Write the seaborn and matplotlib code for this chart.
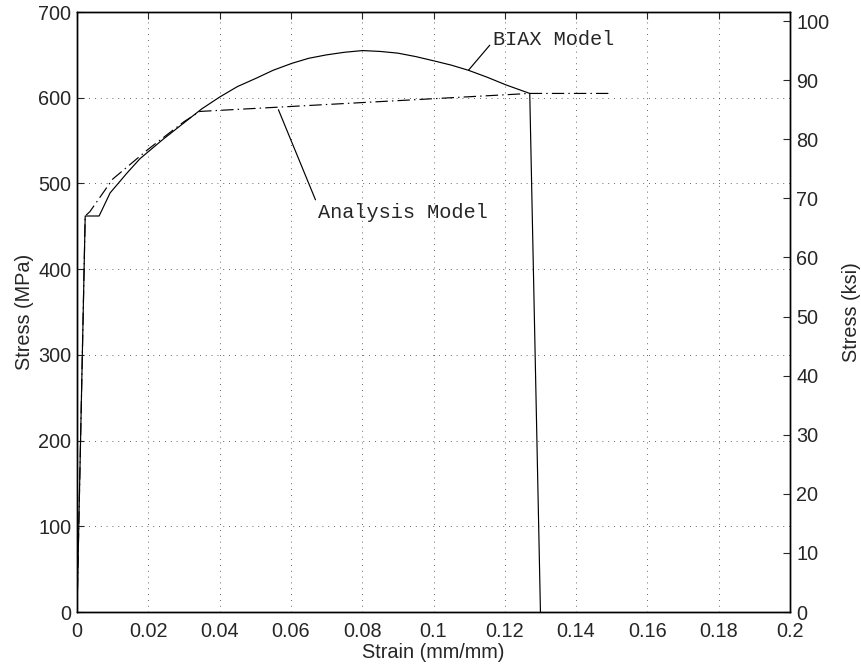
import matplotlib
matplotlib.use("Agg")
import matplotlib.pyplot as plt
import seaborn as sns
import pandas as pd

# ---- data ----
biax_strain = [0.0, 0.0023, 0.0062, 0.0093, 0.014, 0.0177, 0.024, 0.0298, 0.035, 0.0401,
               0.045, 0.0504, 0.055, 0.0602, 0.065, 0.070, 0.075, 0.0801, 0.085, 0.090,
               0.095, 0.1001, 0.105, 0.1098, 0.115, 0.1203, 0.127, 0.130]
biax_stress = [0, 462, 462, 489, 512, 529, 551, 570, 587, 601,
               613, 623, 632, 640, 646, 650, 653, 655, 654, 652,
               648, 643, 638, 632, 624, 615, 605, 0]
anal_strain = [0.0, 0.0023, 0.0036, 0.01, 0.02, 0.03, 0.0345, 0.127, 0.150]
anal_stress = [0, 462, 467, 505, 540, 572, 584, 605, 605]

x_ticks = [0, 0.02, 0.04, 0.06, 0.08, 0.1, 0.12, 0.14, 0.16, 0.18, 0.2]
x_tick_labels = ["0", "0.02", "0.04", "0.06", "0.08", "0.1", "0.12", "0.14", "0.16", "0.18", "0.2"]
y_ticks = [0, 100, 200, 300, 400, 500, 600, 700]
ksi_ticks = [0, 10, 20, 30, 40, 50, 60, 70, 80, 90, 100]
MPA_PER_KSI = 6.894757

sns.set_style("white")
plt.rcParams['font.family'] = ['Liberation Sans', 'DejaVu Sans']
FS = 14.3

fig = plt.figure(figsize=(8.62, 6.68), dpi=100)
ax = fig.add_axes([77/862, 1 - 612/668, (790-77)/862, (612-12)/668])

df_b = pd.DataFrame({"strain": biax_strain, "stress": biax_stress})
df_a = pd.DataFrame({"strain": anal_strain, "stress": anal_stress})
sns.lineplot(data=df_b, x="strain", y="stress", ax=ax, color="black", lw=0.85,
             sort=False, estimator=None)
sns.lineplot(data=df_a, x="strain", y="stress", ax=ax, color="black", lw=0.85,
             sort=False, estimator=None, linestyle=(0, (10.5, 3.5, 1.2, 3.5)))

ax.set_xlim(0, 0.2)
ax.set_ylim(0, 700)
ax.set_xticks(x_ticks)
ax.set_xticklabels(x_tick_labels)
ax.set_yticks(y_ticks)
ax.grid(True, linestyle=(0, (1, 6)), color="#333333", lw=0.6)
ax.tick_params(direction="in", length=5, labelsize=FS, top=True, width=0.8)
ax.tick_params(axis="x", pad=7.5)
ax.tick_params(axis="y", pad=4)
ax.set_xlabel("Strain (mm/mm)", fontsize=FS, labelpad=1)
ax.set_ylabel("Stress (MPa)", fontsize=FS, labelpad=3)
for s in ax.spines.values():
    s.set_color("black")
    s.set_linewidth(1.0)

ax2 = ax.twinx()
ax2.set_ylim(0, 700 / MPA_PER_KSI)
ax2.set_yticks(ksi_ticks)
ax2.tick_params(direction="in", length=5, labelsize=FS, width=0.8, pad=4.5)
ax2.set_ylabel("Stress (ksi)", fontsize=FS, labelpad=9)
for s in ax2.spines.values():
    s.set_color("black")
    s.set_linewidth(1.0)

mono = ['Liberation Mono', 'DejaVu Sans Mono']
ax.annotate("BIAX Model", xy=(0.1098, 632), xytext=(0.1167, 668),
            fontsize=14.6, family=mono, va="center", ha="left",
            arrowprops=dict(arrowstyle="-", color="black", lw=0.85, shrinkA=0, shrinkB=0,
                            relpos=(0, 0.4)))
ax.annotate("Analysis Model", xy=(0.0565, 586), xytext=(0.0676, 466),
            fontsize=14.6, family=mono, va="center", ha="left",
            arrowprops=dict(arrowstyle="-", color="black", lw=0.85, shrinkA=0, shrinkB=0,
                            relpos=(0, 0.85)))

fig.savefig("out.png", dpi=100)
